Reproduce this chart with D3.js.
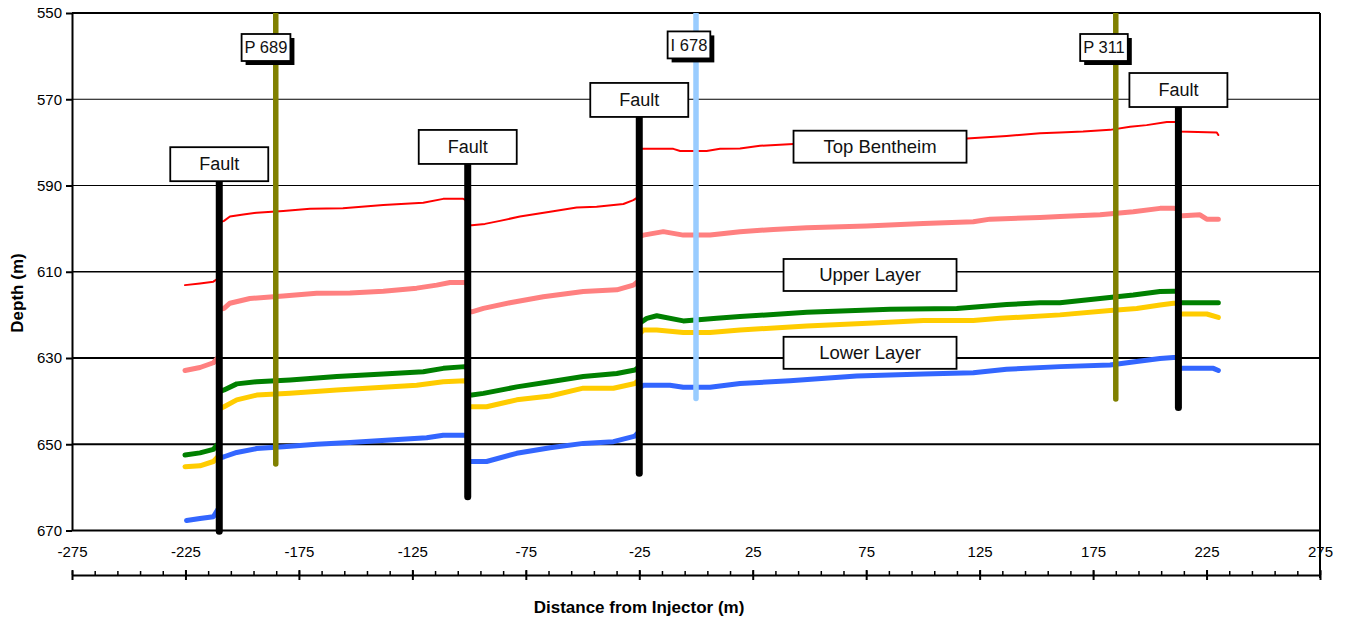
<!DOCTYPE html>
<html><head><meta charset="utf-8">
<script src="https://cdn.jsdelivr.net/npm/d3@7"></script>
<style>
body{margin:0;background:#fff;}
svg{display:block;font-family:"Liberation Sans",Arial,sans-serif;}
</style></head><body>
<svg id="chart" width="1351" height="620"></svg>
<script>
// ---------- data ----------
const xTickValues = [-275,-225,-175,-125,-75,-25,25,75,125,175,225,275];
const xMinorValues = d3.range(-275, 276, 10);
const yTickValues = [550,570,590,610,630,650,670];

const topBentheim = [[-225.2,613.1],[-218.6,612.7],[-212.7,612.3],[-210.5,611.5],[-210,598.6],[-208,598.2],[-205.4,597.2],[-199.5,596.7],[-193.6,596.3],[-181.9,595.9],[-170.1,595.4],[-155.6,595.3],[-137.8,594.5],[-120.2,594],[-111.4,593.1],[-102.6,593.1],[-100.6,593.6],[-100.6,599.2],[-98.8,599.2],[-93,598.9],[-86.4,598.2],[-77.6,597.2],[-64.3,596.1],[-52.6,595.1],[-43.8,594.9],[-32,594.3],[-27.6,593.4],[-25,592.5],[-25,581.5],[-23.2,581.5],[-10,581.5],[-7,582],[4.7,582],[10.6,581.5],[19.4,581.4],[28.2,580.8],[42.9,580.4],[119.3,579.1],[136.9,578.5],[151.6,577.9],[160.4,577.7],[170.6,577.5],[182.5,577.1],[191.3,576.4],[198.6,576],[207.5,575.3],[212.6,575.3],[212.6,577.5],[229.5,577.7],[230.2,578.3]];

const upperLayerTop = [[-225.2,632.9],[-218.6,632.2],[-212.7,631.1],[-210,629.5],[-210,618.8],[-208,618.5],[-205.4,617.3],[-196.6,616.2],[-181.9,615.6],[-167.2,615],[-152.5,614.9],[-137.8,614.5],[-123.1,613.8],[-114.3,613.1],[-108.4,612.5],[-101.8,612.5],[-100.6,613],[-100.6,619.3],[-98.8,619.3],[-93.7,618.5],[-82,617.2],[-67.3,615.8],[-49.7,614.6],[-34.9,614.2],[-27.6,613.1],[-25,612],[-25,601.8],[-23.2,601.5],[-14.4,600.7],[-5.6,601.5],[6.2,601.5],[19.4,600.7],[34.1,600.2],[48.8,599.8],[75.2,599.4],[100.2,598.8],[122.2,598.4],[129.6,597.8],[151.6,597.4],[160.4,597.2],[178.1,596.8],[192.7,596.1],[204.5,595.3],[210.4,595.3],[212.6,595.4],[212.6,597.1],[222.1,596.8],[225.1,597.8],[230.2,597.8]];

const upperLayerBase = [[-225.2,652.5],[-218.6,652],[-212.7,651.2],[-210,649.5],[-210,637.8],[-208,637.4],[-202.4,636],[-193.6,635.5],[-178.9,635.1],[-158.3,634.3],[-137.8,633.7],[-120.2,633.2],[-111.4,632.4],[-101.8,632],[-100.6,632.5],[-100.6,638.6],[-98.8,638.6],[-93.7,638.2],[-79,636.7],[-64.3,635.5],[-49.7,634.3],[-34.9,633.6],[-26.9,632.8],[-25,632],[-25,622],[-21.7,620.8],[-17.3,620.2],[-5.6,621.4],[9.1,620.8],[19.4,620.4],[48.8,619.4],[85.5,618.7],[114.9,618.5],[136.9,617.6],[151.6,617.2],[160.4,617.2],[178.1,616.2],[192.7,615.4],[204.5,614.6],[210.4,614.5],[212.6,614.5],[212.6,617.2],[230.2,617.2]];

const lowerLayerTop = [[-225.2,655.2],[-218.6,655],[-212.7,654],[-210,652.5],[-210,641.8],[-208,641.3],[-202.4,639.7],[-193.6,638.6],[-178.9,638.2],[-158.3,637.4],[-137.8,636.8],[-123.1,636.3],[-111.4,635.5],[-101.8,635.3],[-100.6,636],[-100.6,641.3],[-98.8,641.3],[-92.3,641.3],[-79,639.7],[-64.3,638.8],[-49.7,637],[-36.4,637],[-26.9,635.9],[-25,635],[-25,624.5],[-23.2,623.5],[-17.3,623.5],[-5.6,624.1],[6.2,624.1],[19.4,623.5],[48.8,622.6],[78.1,621.9],[100.2,621.3],[122.2,621.3],[134,620.8],[160.4,620],[182.5,619],[194.2,618.5],[204.5,617.7],[210.4,617.3],[212.6,617.3],[212.6,619.8],[225.1,619.8],[230.2,620.6]];

const lowerLayerBase = [[-224.5,667.7],[-218.6,667.2],[-212.7,666.8],[-210,664.5],[-210,653.2],[-208,652.9],[-202.4,651.9],[-193.6,651],[-181.9,650.6],[-167.2,650],[-152.5,649.6],[-134.9,649],[-118.7,648.5],[-111.4,647.9],[-101.8,647.9],[-100.6,648.5],[-100.6,654],[-98.8,654],[-92.3,654],[-79,652.1],[-64.3,650.8],[-49.7,649.8],[-36.4,649.4],[-26.9,648.1],[-25,647],[-25,637],[-23.2,636.3],[-11.5,636.3],[-5.6,636.8],[6.2,636.8],[19.4,635.9],[41.4,635.3],[70.8,634.2],[100.2,633.7],[122.2,633.4],[136.9,632.6],[160.4,632],[182.5,631.6],[194.2,630.8],[204.5,630.1],[210.4,629.9],[212.6,629.9],[212.6,632.4],[228,632.4],[230.2,632.9]];

const faultNames = ["Fault","Fault","Fault","Fault"];
const faultX = [-210.1,-100.6,-25,212.6];
const faultTop = [589,585,574.1,571.8];
const faultBottom = [670.2,662.2,656.7,641.5];

const wellNames = ["P 689","I 678","P 311"];
const wellX = [-185.2,0,185];
const wellBottom = [654.6,639.4,639.5];
const wellLabelX = [-189.5,-3.1,179.8];
const wellLabelDepth = [558,557.4,558];

const layerNames = ["Top Bentheim","Upper Layer","Lower Layer"];
const layerLabelX = [81.1,76.7,76.7];
const layerLabelDepth = [581,610.75,628.8];

// ---------- drawing ----------
const FONT = '"Liberation Sans", Arial, sans-serif';
const svg = d3.select("#chart");
const x = d3.scaleLinear().domain([-275,275]).range([72,1320]);
const y = d3.scaleLinear().domain([550,670]).range([13,530.5]);

svg.append("defs").append("clipPath").attr("id","plotclip")
  .append("rect").attr("x",0).attr("y",y(550)).attr("width",1351).attr("height",620);

// gridlines
svg.append("g").selectAll("line").data(yTickValues).join("line")
  .attr("x1",x(-275)).attr("x2",x(275))
  .attr("y1",d=>y(d)).attr("y2",d=>y(d))
  .attr("stroke","#000")
  .attr("stroke-width",d=> (d===570||d===590) ? 1 : (d===610 ? 1.5 : 2));

// y axis
const gy = svg.append("g").attr("transform",`translate(${x(-275)},0)`)
  .call(d3.axisLeft(y).tickValues(yTickValues).tickSize(6).tickSizeOuter(0).tickPadding(4).tickFormat(d=>String(d)));
gy.attr("font-family",FONT).attr("font-size",15);
gy.select(".domain").attr("stroke-width",2);
gy.selectAll(".tick line").attr("stroke-width",2);
gy.selectAll(".tick text").attr("fill","#000");

// right border
svg.append("line").attr("x1",x(275)).attr("x2",x(275)).attr("y1",y(550)).attr("y2",578)
  .attr("stroke","#000").attr("stroke-width",2);

// x axis (separate, below plot)
const axisY = 575;
const gxMinor = svg.append("g").attr("transform",`translate(0,${axisY})`)
  .call(d3.axisTop(x).tickValues(xMinorValues).tickSize(4).tickSizeOuter(0).tickFormat(""));
gxMinor.select(".domain").remove();
gxMinor.selectAll(".tick line").attr("stroke-width",1.5);
const gxDown = svg.append("g").attr("transform",`translate(0,${axisY})`)
  .call(d3.axisBottom(x).tickValues(xTickValues).tickSize(5).tickSizeOuter(0).tickFormat(""));
gxDown.select(".domain").remove();
gxDown.selectAll(".tick line").attr("stroke-width",2);
const gx = svg.append("g").attr("transform",`translate(0,${axisY})`)
  .call(d3.axisTop(x).tickValues(xTickValues).tickSize(5).tickSizeOuter(0).tickPadding(13).tickFormat(d=>String(d)));
gx.attr("font-family",FONT).attr("font-size",15);
gx.select(".domain").attr("stroke-width",2);
gx.selectAll(".tick line").attr("stroke-width",2);
gx.selectAll(".tick text").attr("fill","#000");

// titles
svg.append("text").attr("x",639).attr("y",613).attr("text-anchor","middle")
  .attr("font-family",FONT).attr("font-size",17).attr("font-weight","bold").text("Distance from Injector (m)");
svg.append("text").attr("transform","translate(22.5,293) rotate(-90)").attr("text-anchor","middle")
  .attr("font-family",FONT).attr("font-size",17).attr("font-weight","bold").text("Depth (m)");

// horizons
const line = d3.line().x(d=>x(d[0])).y(d=>y(d[1]));
const horizons = [
  {data: topBentheim, color:"#FF0000", w:2},
  {data: upperLayerTop, color:"#FF8080", w:5},
  {data: upperLayerBase, color:"#008000", w:5},
  {data: lowerLayerTop, color:"#FFCC00", w:5},
  {data: lowerLayerBase, color:"#3366FF", w:5}
];
svg.append("g").selectAll("path").data(horizons).join("path")
  .attr("d",d=>line(d.data)).attr("fill","none")
  .attr("stroke",d=>d.color).attr("stroke-width",d=>d.w)
  .attr("stroke-linejoin","round").attr("stroke-linecap","round");

// wells
const wellColors = ["#808000","#99CCFF","#808000"];
svg.append("g").attr("clip-path","url(#plotclip)").selectAll("line").data(wellX).join("line")
  .attr("x1",d=>x(d)).attr("x2",d=>x(d))
  .attr("y1",y(550)).attr("y2",(d,i)=>y(wellBottom[i]))
  .attr("stroke",(d,i)=>wellColors[i]).attr("stroke-width",5.5).attr("stroke-linecap","round");

// faults
svg.append("g").selectAll("line").data(faultX).join("line")
  .attr("x1",d=>x(d)).attr("x2",d=>x(d))
  .attr("y1",(d,i)=>y(faultTop[i])).attr("y2",(d,i)=>y(faultBottom[i]))
  .attr("stroke","#000").attr("stroke-width",7).attr("stroke-linecap","round");

// fault labels
const fw = 98, fh = 34;
faultX.forEach((fx,i)=>{
  const cx = x(fx), by = y(faultTop[i]);
  svg.append("rect").attr("x",cx-fw/2).attr("y",by-fh).attr("width",fw).attr("height",fh)
    .attr("fill","#fff").attr("stroke","#000").attr("stroke-width",1.8);
  svg.append("text").attr("x",cx).attr("y",by-fh/2).attr("dy","0.35em").attr("text-anchor","middle")
    .attr("font-family",FONT).attr("font-size",18).attr("fill","#111").text(faultNames[i]);
});

// well labels with shadow
wellNames.forEach((name,i)=>{
  const cx = x(wellLabelX[i]), cy = y(wellLabelDepth[i]);
  const g = svg.append("g");
  const shadow = g.append("rect");
  const box = g.append("rect");
  const t = g.append("text").attr("x",cx).attr("y",cy).attr("dy","0.35em").attr("text-anchor","middle")
    .attr("font-family",FONT).attr("font-size",16.5).attr("fill","#111").text(name);
  const w = t.node().getComputedTextLength() + 6, h = 27;
  shadow.attr("x",cx-w/2+4).attr("y",cy-h/2+4).attr("width",w).attr("height",h).attr("fill","#000");
  box.attr("x",cx-w/2).attr("y",cy-h/2).attr("width",w).attr("height",h)
    .attr("fill","#fff").attr("stroke","#000").attr("stroke-width",1.8);
});

// layer labels
const lw = 173, lh = 32;
layerNames.forEach((name,i)=>{
  const cx = x(layerLabelX[i]), cy = y(layerLabelDepth[i]);
  svg.append("rect").attr("x",cx-lw/2).attr("y",cy-lh/2).attr("width",lw).attr("height",lh)
    .attr("fill","#fff").attr("stroke","#000").attr("stroke-width",1.8);
  svg.append("text").attr("x",cx).attr("y",cy).attr("dy","0.35em").attr("text-anchor","middle")
    .attr("font-family",FONT).attr("font-size",18.5).attr("fill","#111").text(name);
});
</script>
</body></html>
